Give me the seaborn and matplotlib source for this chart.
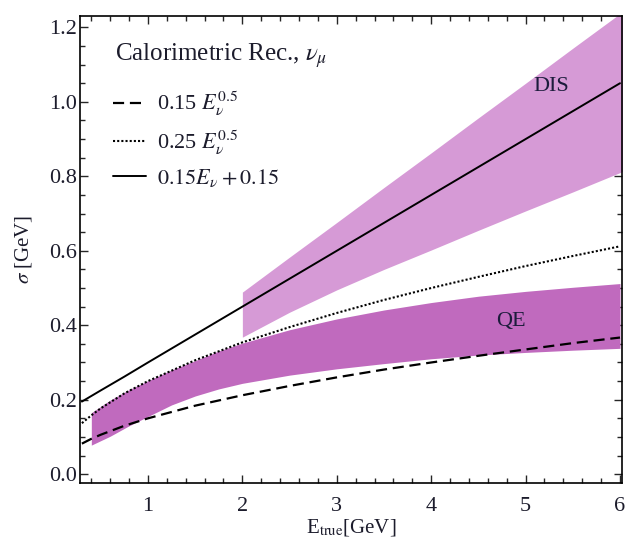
import numpy as np
import pandas as pd
import matplotlib
matplotlib.use('Agg')
import matplotlib.pyplot as plt
import seaborn as sns
from matplotlib.lines import Line2D
from matplotlib.ticker import MultipleLocator, FormatStrFormatter

# Resolution curves
E_line = [0.3, 0.4, 0.5, 0.75, 1.0, 1.5, 2.0, 2.5, 3.0, 3.5, 4.0, 4.5, 5.0, 5.5, 6.0]
sigma_015 = [0.082, 0.095, 0.106, 0.130, 0.150, 0.184, 0.212, 0.237, 0.260, 0.281,
             0.300, 0.318, 0.335, 0.352, 0.367]
sigma_025 = [0.137, 0.158, 0.177, 0.217, 0.250, 0.306, 0.354, 0.395, 0.433, 0.468,
             0.500, 0.530, 0.559, 0.586, 0.612]
sigma_lin = [0.195, 0.210, 0.225, 0.262, 0.300, 0.375, 0.450, 0.525, 0.600, 0.675,
             0.750, 0.825, 0.900, 0.975, 1.050]

# QE band (darker)
qe_E = [0.4, 0.6, 0.8, 1.0, 1.25, 1.5, 1.75, 2.0, 2.5, 3.0, 3.5, 4.0, 4.5, 5.0, 5.5, 6.0]
qe_upper = [0.165, 0.199, 0.227, 0.251, 0.280, 0.305, 0.331, 0.352, 0.388, 0.417,
            0.441, 0.461, 0.478, 0.491, 0.502, 0.512]
qe_lower = [0.078, 0.102, 0.130, 0.155, 0.186, 0.210, 0.229, 0.244, 0.266, 0.283,
            0.297, 0.310, 0.320, 0.327, 0.333, 0.338]

# DIS band (lighter)
dis_E = [2.0, 2.5, 3.0, 3.5, 4.0, 4.5, 5.0, 5.5, 6.0, 6.1]
dis_upper = [0.489, 0.583, 0.676, 0.770, 0.863, 0.957, 1.050, 1.144, 1.237, 1.256]
dis_lower = [0.368, 0.435, 0.495, 0.550, 0.602, 0.655, 0.707, 0.758, 0.810, 0.820]

sns.set_style("ticks")
plt.rcParams['font.family'] = ['Liberation Serif', 'DejaVu Serif']
plt.rcParams['mathtext.fontset'] = 'stix'

txt_color = '#1c1c2c'
dash_style = (0, (5, 2.6))
dot_style = (0, (1.0, 1.0))

fig = plt.figure(figsize=(6.25, 5.41), dpi=100)
ax = fig.add_axes([0.128, 0.107, 0.867, 0.863])

ax.fill_between(dis_E, dis_lower, dis_upper, color='#d69ad6', linewidth=0, zorder=1)
ax.fill_between(qe_E, qe_lower, qe_upper, color='#c06abe', linewidth=0, zorder=2)

lines = pd.DataFrame({'E': E_line, 'a': sigma_015, 'b': sigma_025, 'c': sigma_lin})
sns.lineplot(data=lines, x='E', y='a', ax=ax, color='black', lw=1.6,
             linestyle=dash_style, zorder=3)
sns.lineplot(data=lines, x='E', y='b', ax=ax, color='black', lw=1.5,
             linestyle=dot_style, zorder=3)
sns.lineplot(data=lines, x='E', y='c', ax=ax, color='black', lw=1.4, zorder=3)

ax.set_xlim(0.28, 6.02)
ax.set_ylim(-0.024, 1.23)
ax.xaxis.set_major_locator(MultipleLocator(1))
ax.xaxis.set_minor_locator(MultipleLocator(0.2))
ax.yaxis.set_major_locator(MultipleLocator(0.2))
ax.yaxis.set_minor_locator(MultipleLocator(0.05))
ax.yaxis.set_major_formatter(FormatStrFormatter('%.1f'))
ax.tick_params(which='both', direction='in', top=True, right=True,
               labelsize=16, labelcolor=txt_color, width=1.0)
ax.tick_params(which='major', length=6)
ax.tick_params(which='minor', length=3.5)
ax.tick_params(axis='x', pad=10)
ax.tick_params(axis='y', pad=2)
for s in ax.spines.values():
    s.set_linewidth(1.2)
    s.set_color('black')

ax.set_xlabel(r'E$_{\mathrm{true}}$[GeV]', fontsize=15, color=txt_color, labelpad=1)
ax.set_ylabel(r'$\sigma$ [GeV]', fontsize=15, color=txt_color, labelpad=11)

ax.text(0.064, 0.915, r'Calorimetric Rec., $\nu_\mu$', transform=ax.transAxes,
        fontsize=18, color=txt_color, va='center', ha='left')

handles = [Line2D([], [], color='black', lw=1.6, linestyle=dash_style),
           Line2D([], [], color='black', lw=1.5, linestyle=dot_style),
           Line2D([], [], color='black', lw=1.4)]
labels = [r'0.15 $E_\nu^{0.5}$', r'0.25 $E_\nu^{0.5}$', r'$0.15E_\nu + 0.15$']
leg = ax.legend(handles, labels, loc='upper left', bbox_to_anchor=(0.024, 0.885),
                frameon=False, fontsize=16, handlelength=1.5, handletextpad=0.5,
                labelspacing=0.45)
for t in leg.get_texts():
    t.set_color(txt_color)

ax.text(5.27, 1.04, 'DIS', fontsize=16, color='#1c1c3c', ha='center', va='center', zorder=4)
ax.text(4.85, 0.41, 'QE', fontsize=16, color='#1c1c3c', ha='center', va='center', zorder=4)

fig.savefig('out.png', dpi=100)
